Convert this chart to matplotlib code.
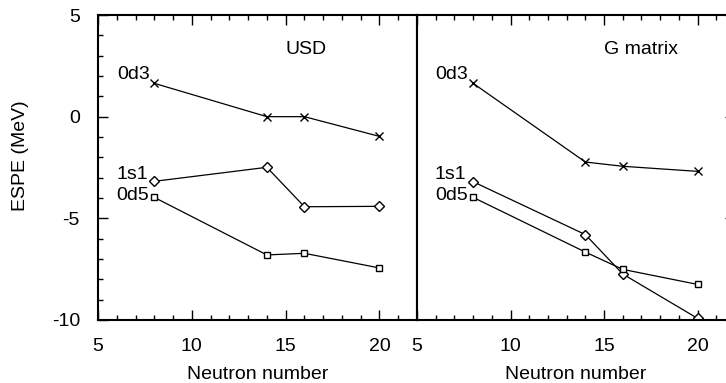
import matplotlib.pyplot as plt

plt.rcParams['font.family'] = ['Liberation Sans', 'DejaVu Sans']
plt.rcParams['font.size'] = 14
plt.rcParams['axes.unicode_minus'] = False

neutrons = [8, 14, 16, 20]

usd_0d3 = [1.64, 0.0, 0.0, -0.97]
usd_1s1 = [-3.18, -2.49, -4.43, -4.41]
usd_0d5 = [-3.97, -6.80, -6.72, -7.44]

gm_0d3 = [1.64, -2.23, -2.44, -2.69]
gm_1s1 = [-3.20, -5.80, -7.74, -9.92]
gm_0d5 = [-3.97, -6.66, -7.51, -8.25]

panels = [
    ("USD", 16.1, usd_0d3, usd_1s1, usd_0d5),
    ("G matrix", 17.0, gm_0d3, gm_1s1, gm_0d5),
]

fig = plt.figure(figsize=(7.26, 3.83), dpi=100)
ax1 = fig.add_axes([0.135, 0.1645, 0.4394, 0.7963])
ax2 = fig.add_axes([0.5744, 0.1645, 0.4380, 0.7963])

for ax, (title, tx, d3, s1, d5) in zip([ax1, ax2], panels):
    ax.plot(neutrons, d3, color='black', lw=0.9, marker='x', ms=5.5, mew=1)
    ax.plot(neutrons, s1, color='black', lw=0.9, marker='D', ms=5.2, mew=1, mfc='white')
    ax.plot(neutrons, d5, color='black', lw=0.9, marker='s', ms=4.5, mew=1, mfc='white')
    ax.text(7.75, 1.85, "0d3", ha='right', va='baseline')
    ax.text(7.65, -3.05, "1s1", ha='right', va='baseline')
    ax.text(7.7, -4.1, "0d5", ha='right', va='baseline')
    ax.text(tx, 3.3, title, ha='center', va='center')

    ax.set_xlim(5, 22)
    ax.set_ylim(-10, 5)
    ax.set_xticks([5, 10, 15, 20])
    ax.set_xticks(range(5, 23), minor=True)
    ax.set_yticks([-10, -5, 0, 5])
    ax.set_yticks(range(-10, 6), minor=True)
    ax.set_xlabel("Neutron number", labelpad=8)
    for s in ax.spines.values():
        s.set_linewidth(1.5)
    ax.tick_params(which='both', direction='in', top=True, width=1, pad=13)
    ax.tick_params(which='major', length=7)
    ax.tick_params(which='minor', length=3.5)

ax1.tick_params(which='both', right=False)
ax1.set_ylabel("ESPE (MeV)")
ax1.yaxis.set_label_coords(-0.215, 0.54)
ax2.tick_params(which='both', left=False, labelleft=False, right=True)

fig.savefig("out.png", dpi=100)
